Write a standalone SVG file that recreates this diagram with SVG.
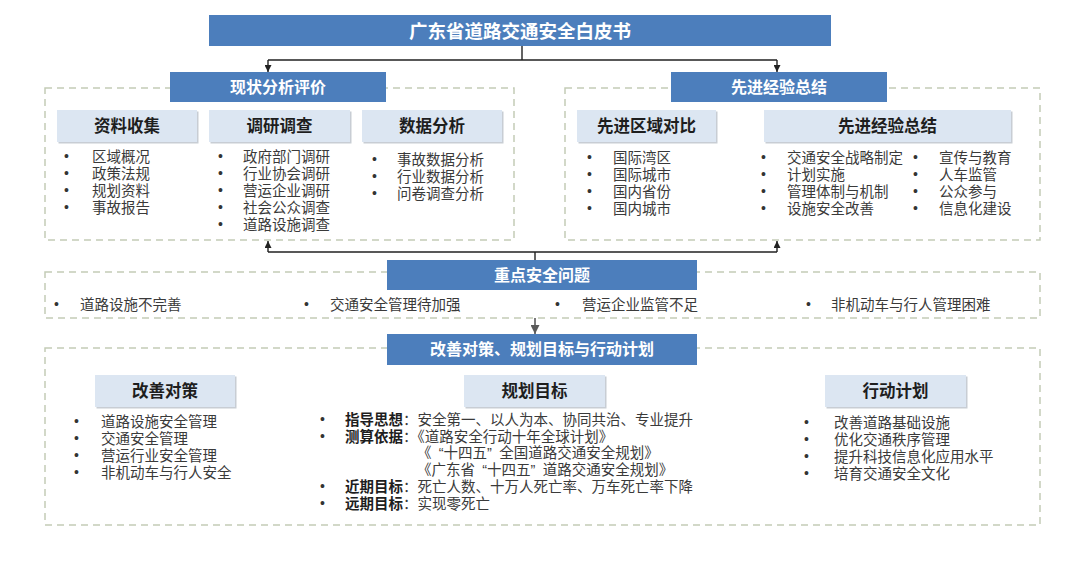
<svg xmlns="http://www.w3.org/2000/svg" width="1080" height="562" viewBox="0 0 1080 562">
<defs>
<marker id="ah" viewBox="0 0 8 8" refX="8" refY="4" markerWidth="7" markerHeight="7" markerUnits="userSpaceOnUse" orient="auto">
<path d="M0,0 L8,4 L0,8 z" fill="#222"/>
</marker>
<marker id="ahg" viewBox="0 0 8 8" refX="8" refY="4" markerWidth="9" markerHeight="9" markerUnits="userSpaceOnUse" orient="auto">
<path d="M0,0 L8,4 L0,8 z" fill="#5a5a5a"/>
</marker>
</defs>
<style>
text{font-family:"Noto Sans CJK SC","Liberation Sans",sans-serif}
.cont{fill:none;stroke:#c3ccb6;stroke-width:1.5;stroke-dasharray:7 5}
.hdr{fill:#4c7ebc}
.hdrt{fill:#fff;font-size:16px;font-weight:bold;text-anchor:middle}
.sub{fill:#dce6f2}
.subs{fill:#c8cdd4}
.subt{fill:#1e1e1e;font-size:16.5px;font-weight:bold;text-anchor:middle}
.it{fill:#3a3a3a;font-size:14.5px;font-family:"Liberation Sans","Noto Sans CJK SC",sans-serif}
.bl{fill:#333;font-size:14px;font-family:"Liberation Sans","Noto Sans CJK SC",sans-serif}
.b{font-weight:bold;fill:#1e1e1e}
.ln{fill:none;stroke:#222;stroke-width:1.4}
</style>
<rect width="1080" height="562" fill="#fff"/>

<g id="containers">
<rect class="cont" x="45" y="88" width="469" height="152"/>
<rect class="cont" x="565" y="88" width="475" height="152"/>
<rect class="cont" x="45" y="272" width="995" height="46"/>
<rect class="cont" x="45" y="348" width="995" height="177"/>
</g>

<g id="connectors">
<path class="ln" d="M522 46 V60 M268 60 H777"/>
<line class="ln" x1="268" y1="60" x2="268" y2="72" marker-end="url(#ah)"/>
<line class="ln" x1="777" y1="60" x2="777" y2="72" marker-end="url(#ah)"/>
<path class="ln" d="M535 260 V252 M268 252 H777"/>
<line class="ln" x1="268" y1="252" x2="268" y2="241" marker-end="url(#ah)"/>
<line class="ln" x1="777" y1="252" x2="777" y2="241" marker-end="url(#ah)"/>
<line x1="535" y1="318" x2="535" y2="334" stroke="#5a5a5a" stroke-width="1.6" marker-end="url(#ahg)"/>
</g>

<g id="title">
<rect class="hdr" x="209" y="15" width="622" height="31"/>
<text x="520" y="37.5" fill="#fff" font-size="18.5" font-weight="bold" text-anchor="middle">广东省道路交通安全白皮书</text>
</g>

<g id="status">
<rect class="hdr" x="170" y="72" width="216" height="30"/>
<text class="hdrt" x="278" y="92.5">现状分析评价</text>
</g>

<g id="advanced">
<rect class="hdr" x="671" y="72" width="216" height="30"/>
<text class="hdrt" x="779" y="92.5">先进经验总结</text>
</g>

<g id="data-collect">
<rect class="subs" x="58.5" y="111.5" width="140" height="32"/>
<rect class="sub" x="57" y="110" width="140" height="32"/>
<text class="subt" x="127" y="132">资料收集</text>
<text class="bl"><tspan x="64" y="161">•</tspan><tspan x="64" y="178">•</tspan><tspan x="64" y="195">•</tspan><tspan x="64" y="212">•</tspan></text>
<text class="it"><tspan x="92" y="162">区域概况</tspan><tspan x="92" y="179">政策法规</tspan><tspan x="92" y="196">规划资料</tspan><tspan x="92" y="213">事故报告</tspan></text>
</g>

<g id="survey">
<rect class="subs" x="210.5" y="111.5" width="141" height="32"/>
<rect class="sub" x="209" y="110" width="141" height="32"/>
<text class="subt" x="279.5" y="132">调研调查</text>
<text class="bl"><tspan x="218" y="161">•</tspan><tspan x="218" y="178">•</tspan><tspan x="218" y="195">•</tspan><tspan x="218" y="212">•</tspan><tspan x="218" y="229">•</tspan></text>
<text class="it"><tspan x="243" y="162">政府部门调研</tspan><tspan x="243" y="179">行业协会调研</tspan><tspan x="243" y="196">营运企业调研</tspan><tspan x="243" y="213">社会公众调查</tspan><tspan x="243" y="230">道路设施调查</tspan></text>
</g>

<g id="data-analysis">
<rect class="subs" x="363.5" y="111.5" width="140" height="32"/>
<rect class="sub" x="362" y="110" width="140" height="32"/>
<text class="subt" x="432" y="132">数据分析</text>
<text class="bl"><tspan x="372" y="164">•</tspan><tspan x="372" y="181">•</tspan><tspan x="372" y="198">•</tspan></text>
<text class="it"><tspan x="397" y="165">事故数据分析</tspan><tspan x="397" y="182">行业数据分析</tspan><tspan x="397" y="199">问卷调查分析</tspan></text>
</g>

<g id="region-compare">
<rect class="subs" x="578.5" y="111.5" width="139" height="32"/>
<rect class="sub" x="577" y="110" width="139" height="32"/>
<text class="subt" x="646.5" y="132">先进区域对比</text>
<text class="bl"><tspan x="587" y="162">•</tspan><tspan x="587" y="179">•</tspan><tspan x="587" y="196">•</tspan><tspan x="587" y="213">•</tspan></text>
<text class="it"><tspan x="613" y="163">国际湾区</tspan><tspan x="613" y="180">国际城市</tspan><tspan x="613" y="197">国内省份</tspan><tspan x="613" y="214">国内城市</tspan></text>
</g>

<g id="experience">
<rect class="subs" x="765.5" y="111.5" width="247" height="32"/>
<rect class="sub" x="764" y="110" width="247" height="32"/>
<text class="subt" x="887.5" y="132">先进经验总结</text>
<text class="bl"><tspan x="761" y="162">•</tspan><tspan x="761" y="179">•</tspan><tspan x="761" y="196">•</tspan><tspan x="761" y="213">•</tspan></text>
<text class="it"><tspan x="787" y="163">交通安全战略制定</tspan><tspan x="787" y="180">计划实施</tspan><tspan x="787" y="197">管理体制与机制</tspan><tspan x="787" y="214">设施安全改善</tspan></text>
<text class="bl"><tspan x="913" y="162">•</tspan><tspan x="913" y="179">•</tspan><tspan x="913" y="196">•</tspan><tspan x="913" y="213">•</tspan></text>
<text class="it"><tspan x="939" y="163">宣传与教育</tspan><tspan x="939" y="180">人车监管</tspan><tspan x="939" y="197">公众参与</tspan><tspan x="939" y="214">信息化建设</tspan></text>
</g>

<g id="key-issues">
<rect class="hdr" x="387" y="260" width="310" height="30"/>
<text class="hdrt" x="542" y="280.5">重点安全问题</text>
<text class="bl" x="54" y="309">•</text><text class="it" x="80" y="310">道路设施不完善</text>
<text class="bl" x="304" y="309">•</text><text class="it" x="330" y="310">交通安全管理待加强</text>
<text class="bl" x="555" y="309">•</text><text class="it" x="582" y="310">营运企业监管不足</text>
<text class="bl" x="806" y="309">•</text><text class="it" x="831" y="310">非机动车与行人管理困难</text>
</g>

<g id="plan">
<rect class="hdr" x="387" y="334" width="310" height="31"/>
<text class="hdrt" x="542" y="355">改善对策、规划目标与行动计划</text>
</g>

<g id="measures">
<rect class="subs" x="96.5" y="376.5" width="140" height="32"/>
<rect class="sub" x="95" y="375" width="140" height="32"/>
<text class="subt" x="165" y="397">改善对策</text>
<text class="bl"><tspan x="74" y="426">•</tspan><tspan x="74" y="443">•</tspan><tspan x="74" y="460">•</tspan><tspan x="74" y="477">•</tspan></text>
<text class="it"><tspan x="101" y="427">道路设施安全管理</tspan><tspan x="101" y="444">交通安全管理</tspan><tspan x="101" y="461">营运行业安全管理</tspan><tspan x="101" y="478">非机动车与行人安全</tspan></text>
</g>

<g id="goals">
<rect class="subs" x="465.5" y="376.5" width="141" height="32"/>
<rect class="sub" x="464" y="375" width="141" height="32"/>
<text class="subt" x="534.5" y="397">规划目标</text>
<text class="bl"><tspan x="320" y="424">•</tspan><tspan x="320" y="441">•</tspan><tspan x="320" y="491">•</tspan><tspan x="320" y="508">•</tspan></text>
<text class="it"><tspan x="345" y="425" class="b">指导思想</tspan><tspan>：安全第一、以人为本、协同共治、专业提升</tspan><tspan x="345" y="442" class="b">测算依据</tspan><tspan>：《道路安全行动十年全球计划》</tspan><tspan x="417" y="458">《&#8194;“十四五”&#8194;全国道路交通安全规划》</tspan><tspan x="417" y="475">《广东省&#8194;“十四五”&#8194;道路交通安全规划》</tspan><tspan x="345" y="492" class="b">近期目标</tspan><tspan>：死亡人数、十万人死亡率、万车死亡率下降</tspan><tspan x="345" y="509" class="b">远期目标</tspan><tspan>：实现零死亡</tspan></text>
</g>

<g id="actions">
<rect class="subs" x="826.5" y="376.5" width="141" height="32"/>
<rect class="sub" x="825" y="375" width="141" height="32"/>
<text class="subt" x="895.5" y="397">行动计划</text>
<text class="bl"><tspan x="804" y="427">•</tspan><tspan x="804" y="444">•</tspan><tspan x="804" y="461">•</tspan><tspan x="804" y="478">•</tspan></text>
<text class="it"><tspan x="834" y="428">改善道路基础设施</tspan><tspan x="834" y="445">优化交通秩序管理</tspan><tspan x="834" y="462">提升科技信息化应用水平</tspan><tspan x="834" y="479">培育交通安全文化</tspan></text>
</g>
</svg>
